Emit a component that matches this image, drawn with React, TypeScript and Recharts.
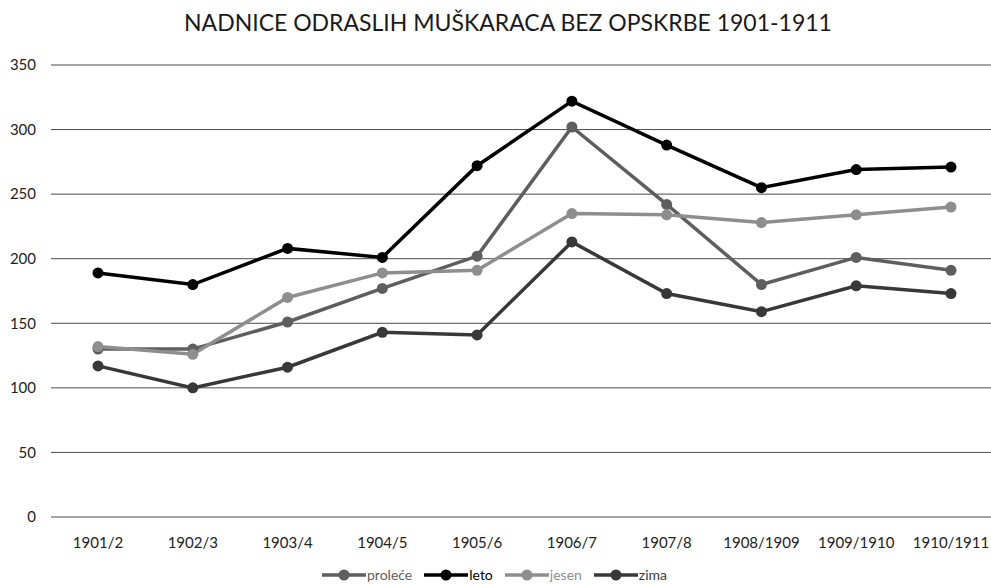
import React from 'react';
import { LineChart, Line, XAxis, YAxis, CartesianGrid, Legend } from 'recharts';

const periods = ['1901/2', '1902/3', '1903/4', '1904/5', '1905/6', '1906/7', '1907/8', '1908/1909', '1909/1910', '1910/1911'];
const proleceVals = [130, 130, 151, 177, 202, 302, 242, 180, 201, 191];
const letoVals = [189, 180, 208, 201, 272, 322, 288, 255, 269, 271];
const jesenVals = [132, 126, 170, 189, 191, 235, 234, 228, 234, 240];
const zimaVals = [117, 100, 116, 143, 141, 213, 173, 159, 179, 173];
const yTicks = [0, 50, 100, 150, 200, 250, 300, 350];

const series = [
    { key: 'proleće', values: proleceVals, color: '#5e5e5e' },
    { key: 'leto', values: letoVals, color: '#000000' },
    { key: 'jesen', values: jesenVals, color: '#8e8e8e' },
    { key: 'zima', values: zimaVals, color: '#383838' },
];

const data = periods.map((p, i) => {
    const row: any = { period: p };
    series.forEach(s => { row[s.key] = s.values[i]; });
    return row;
});

const FONT = 'Lato, "Open Sans", sans-serif';

function LegendContent() {
    return (
        <div style={{ display: 'flex', justifyContent: 'center', alignItems: 'center', gap: 12, fontFamily: FONT, fontSize: 14, paddingRight: 9, marginTop: 5 }}>
            {series.map(s => (
                <div key={s.key} style={{ display: 'flex', alignItems: 'center' }}>
                    <svg width={44} height={14}>
                        <line x1={0} y1={7} x2={44} y2={7} stroke={s.color} strokeWidth={3.5} />
                        <circle cx={22} cy={7} r={5.5} fill={s.color} />
                    </svg>
                    <span style={{ color: s.color, marginLeft: 1 }}>{s.key}</span>
                </div>
            ))}
        </div>
    );
}

export default function App() {
    return (
        <div style={{ position: 'absolute', left: 0, top: 0, width: 991, height: 585, overflow: 'hidden', background: '#fff' }}>
            <div style={{ position: 'absolute', top: 8, left: 0, width: 1016, textAlign: 'center', fontFamily: FONT, fontSize: 23, color: '#1a1a1a' }}>
                NADNICE ODRASLIH MUŠKARACA BEZ OPSKRBE 1901-1911
            </div>
            <LineChart width={1000} height={585} data={data} margin={{ top: 65, right: 2, bottom: 0, left: 0 }}>
                <CartesianGrid vertical={false} stroke="#4a4a4a" strokeWidth={1} />
                <XAxis
                    dataKey="period"
                    axisLine={false}
                    tickLine={false}
                    height={44}
                    tickMargin={14}
                    interval={0}
                    padding={{ left: 47, right: 47 }}
                    tick={{ fill: '#222', fontSize: 15, fontFamily: FONT }}
                />
                <YAxis
                    width={51}
                    domain={[0, 350]}
                    ticks={yTicks}
                    axisLine={false}
                    tickLine={false}
                    tickMargin={9}
                    tick={{ fill: '#222', fontSize: 15, fontFamily: FONT }}
                />
                <Legend verticalAlign="bottom" height={24} content={<LegendContent />} />
                {series.map(s => (
                    <Line
                        key={s.key}
                        type="linear"
                        dataKey={s.key}
                        stroke={s.color}
                        strokeWidth={3.5}
                        dot={{ r: 5.5, fill: s.color, stroke: s.color, strokeWidth: 0 }}
                        activeDot={false}
                        isAnimationActive={false}
                    />
                ))}
            </LineChart>
        </div>
    );
}
